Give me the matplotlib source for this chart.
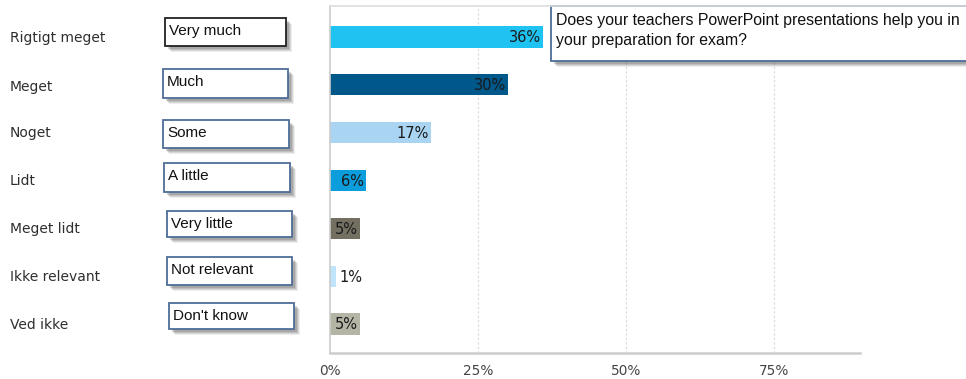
import matplotlib.pyplot as plt
from matplotlib.patches import Rectangle

# survey answers (danish labels, english translations) and share in percent
categories = ['Rigtigt meget', 'Meget', 'Noget', 'Lidt', 'Meget lidt', 'Ikke relevant', 'Ved ikke']
translations = ['Very much', 'Much', 'Some', 'A little', 'Very little', 'Not relevant', "Don't know"]
values = [36, 30, 17, 6, 5, 1, 5]
colors = ['#1fc3f1', '#00578a', '#a9d5f3', '#0b9ddc', '#737062', '#c0e4f9', '#b5b5a5']
xticks = [0, 25, 50, 75]
question = ['Does your teachers PowerPoint presentations help you in',
            'your preparation for exam?']

# translation boxes: left, top, width, height (pixels)
box_pos = [(165, 18, 121, 28), (163, 69, 125, 29), (163, 120, 126, 28), (164, 163, 126, 29),
           (167, 211, 125, 26), (167, 257, 125, 28), (169, 303, 125, 26)]
box_edge = ['#222222', '#4f6d99', '#4f6d99', '#4f6d99', '#4f6d99', '#4f6d99', '#4f6d99']

W, H = 966, 379
fig = plt.figure(figsize=(W / 100, H / 100), dpi=100)
ax = fig.add_axes([330 / W, 1 - 353 / H, 530 / W, 347 / H])

y = list(range(len(categories)))
ax.barh(y, values, height=0.44, color=colors, zorder=2)
ax.set_ylim(6.606, -0.648)
ax.set_xlim(0, 89.5)

for i, v in enumerate(values):
    if v >= 3:
        ax.text(v - 0.3, i + 0.02, f'{v}%', ha='right', va='center', fontsize=10.5,
                color='#1a1a1a', zorder=3)
    else:
        ax.text(v + 0.6, i + 0.02, f'{v}%', ha='left', va='center', fontsize=10.5,
                color='#1a1a1a', zorder=3)

ax.set_xticks(xticks)
ax.set_xticklabels([f'{t}%' for t in xticks], fontsize=9.8, color='#444444')
ax.tick_params(axis='x', length=0, pad=8)
ax.set_yticks([])
for t in xticks[1:]:
    ax.axvline(t, color='#d8d8d8', lw=0.8, ls=(0, (2, 2)), zorder=1)
for s in ['top', 'right']:
    ax.spines[s].set_visible(False)
ax.spines['left'].set_color('#cccccc')
ax.spines['bottom'].set_color('#cccccc')
ax.spines['left'].set_linewidth(1.2)
ax.spines['bottom'].set_linewidth(1.8)

# overlay in pixel units for labels and boxes
ov = fig.add_axes([0, 0, 1, 1], zorder=5)
ov.set_xlim(0, W)
ov.set_ylim(H, 0)
ov.axis('off')
ov.patch.set_alpha(0)

ov.plot([330, W], [6, 6], color='#dddddd', lw=1.2)

row_px = [37, 86, 132, 180, 228, 276, 324]
for lab, py in zip(categories, row_px):
    ov.text(10, py + 1, lab, ha='left', va='center', fontsize=10, color='#2e2e2e')


def shadow_box(x, yt, w, h, edge):
    for k, a in enumerate([0.10, 0.14, 0.18, 0.22]):
        off = 6 - k
        ov.add_patch(Rectangle((x + off, yt + off), w, h, facecolor='#555555',
                               edgecolor='none', alpha=a))
    ov.add_patch(Rectangle((x, yt), w, h, facecolor='white', edgecolor=edge, lw=1.3))


for (bx, by, bw, bh), txt, ec in zip(box_pos, translations, box_edge):
    shadow_box(bx, by, bw, bh, ec)
    ov.text(bx + 4, by + 13, txt, ha='left', va='center', fontsize=11,
            family='Liberation Sans', color='#111111')

shadow_box(551, 6, 420, 55, '#4f6d99')
for k, line in enumerate(question):
    ov.text(556, 21 + 19 * k, line, ha='left', va='center', fontsize=11.4,
            family='Liberation Sans', color='#111111')

fig.savefig('out.png', dpi=100)
